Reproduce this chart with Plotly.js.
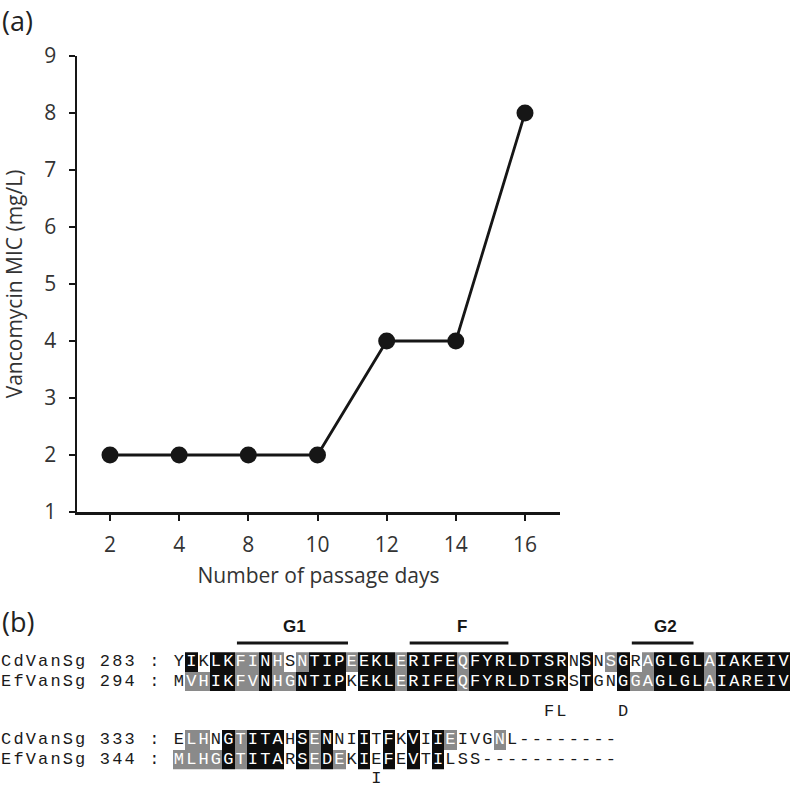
<!DOCTYPE html>
<html>
<head>
<meta charset="utf-8">
<script src="https://cdn.plot.ly/plotly-3.0.1.min.js"></script>
<style>
  html, body { margin: 0; padding: 0; background: #fff; }
  #chart { width: 796px; height: 793px; }
</style>
</head>
<body>
<div id="chart"></div>
<script>
// (a) vancomycin MIC over serial passage
const passageDays = ['2', '4', '8', '10', '12', '14', '16'];
const micValues = [2, 2, 2, 2, 4, 4, 8];

// (b) VanSg alignment
const seqLabels = ['CdVanSg 283 : ', 'EfVanSg 294 : ', 'CdVanSg 333 : ', 'EfVanSg 344 : '];
const seqResidues = [
  'YIKLKFINHSNTIPEEKLERIFEQFYRLDTSRNSNSGRAGLGLAIAKEIV',
  'MVHIKFVNHGNTIPKEKLERIFEQFYRLDTSRSTGNGGAGLGLAIAREIV',
  'ELHNGTITAHSENNIITFKVIIEIVGNL--------',
  'MLHGGTITARSEDEKIEFEVTILSS-----------',
];
// k = identical (black box), g = similar (grey box), . = unshaded
const seqShading = [
  '.k.kkggkg.gkkkgkkkgkkkkgkkkkkkkk.k.gk.gkkkkgkkkkkk',
  '.ggkkggkggkkkk.kkkgkkkkgkkkkkkkk.k..kggkkkkgkkkkkk',
  '.gg.kgkkk.kgk..k.k.k.kg...g.........',
  'ggggkgkkk.kgkg.k.k.k.k..............',
];
// motif bars (residue columns within the block)
const motifNames = ['G1', 'F', 'G2'];
const motifFirst = [5, 19, 37];
const motifLast = [13, 26, 41];
// point changes found in the passaged strain
const mutRow = [1, 1, 1, 3];
const mutCol = [30, 31, 36, 16];
const mutText = ['F', 'L', 'D', 'I'];

const CHAR_W = 12.34;
const ROW_Y = [0, 1, 4, 5];
const MUT_Y = { 1: 2.55, 3: 6.0 };
const INK = '#161616';

const nCols = Math.max(...seqLabels.map((l, i) => l.length + seqResidues[i].length));
const shadeZ = Array.from({ length: 6 }, () => Array(nCols).fill(null));
const chars = { x: [], y: [], text: [], color: [] };
seqLabels.forEach((label, r) => {
  const line = label + seqResidues[r];
  const shade = ' '.repeat(label.length) + seqShading[r];
  [...line].forEach((ch, i) => {
    const s = shade[i];
    if (s === 'k' || s === 'g') shadeZ[ROW_Y[r]][i] = s === 'k' ? 2 : 1;
    if (ch === ' ') return;
    chars.x.push(i);
    chars.y.push(ROW_Y[r]);
    chars.text.push(ch);
    chars.color.push(s === 'k' || s === 'g' ? '#ffffff' : '#1a1a1a');
  });
});
const offset = seqLabels[0].length;
mutText.forEach((t, i) => {
  chars.x.push(offset + mutCol[i]);
  chars.y.push(MUT_Y[mutRow[i]]);
  chars.text.push(t);
  chars.color.push('#1a1a1a');
});

const traces = [
  {
    x: passageDays, y: micValues, type: 'scatter', mode: 'lines+markers',
    line: { color: INK, width: 2.8 },
    marker: { color: INK, size: 17 },
    hoverinfo: 'skip', cliponaxis: false,
  },
  {
    z: shadeZ, x: shadeZ[0].map((_, i) => i), y: shadeZ.map((_, i) => i),
    type: 'heatmap', xaxis: 'x2', yaxis: 'y2', zmin: 1, zmax: 2, showscale: false,
    colorscale: [[0, '#8a8a8a'], [0.5, '#8a8a8a'], [0.5, '#0d0d0d'], [1, '#0d0d0d']],
    hoverinfo: 'skip',
  },
  {
    x: chars.x, y: chars.y, text: chars.text, type: 'scatter', mode: 'text',
    xaxis: 'x2', yaxis: 'y2', textposition: 'middle center',
    textfont: { family: 'Liberation Mono, Courier New, monospace', size: 17, color: chars.color },
    hoverinfo: 'skip', cliponaxis: false,
  },
];

const shapes = motifNames.map((_, i) => ({
  type: 'line', xref: 'x2', yref: 'y2',
  x0: offset + motifFirst[i] - 0.5 + 0.2, x1: offset + motifLast[i] + 0.5 + 0.2,
  y0: -0.97, y1: -0.97, line: { color: INK, width: 3 },
}));
const annotations = motifNames.map((name, i) => ({
  xref: 'x2', yref: 'y2', x: offset + (motifFirst[i] + motifLast[i]) / 2 + 0.4, y: -1.8,
  text: name, showarrow: false,
  font: { family: 'Liberation Sans, Arial, sans-serif', size: 17, weight: 'bold', color: INK },
}));
annotations.push(
  { xref: 'paper', yref: 'paper', x: 0, y: 1, xanchor: 'left', yanchor: 'top', text: '(a)', showarrow: false,
    font: { family: 'Open Sans', size: 27, color: '#222' } },
  { xref: 'paper', yref: 'paper', x: 0, y: 1 - 621 / 793, xanchor: 'left', yanchor: 'middle', text: '(b)', showarrow: false,
    font: { family: 'Open Sans', size: 27, color: '#222' } },
);

const axisStyle = {
  showline: true, linewidth: 2.5, linecolor: INK, ticks: 'outside', ticklen: 6, tickwidth: 2, tickcolor: INK,
  showgrid: false, zeroline: false, fixedrange: true,
  tickfont: { family: 'Open Sans', size: 21, color: '#333' },
};

const layout = {
  width: 796, height: 793,
  margin: { l: 0, r: 0, t: 0, b: 0 },
  paper_bgcolor: 'white', plot_bgcolor: 'rgba(0,0,0,0)',
  showlegend: false,
  font: { family: 'Open Sans', color: '#222' },
  xaxis: {
    ...axisStyle, domain: [77 / 796, 560 / 796], type: 'category', range: [-0.477, 6.506],
    ticklabelstandoff: 6,
    title: { text: 'Number of passage days', font: { family: 'Open Sans', size: 21, color: '#333' }, standoff: 12 },
  },
  yaxis: {
    ...axisStyle, domain: [1 - 512 / 793, 1 - 56 / 793], range: [1, 9], dtick: 1,
    ticklabelstandoff: 8,
    title: { text: 'Vancomycin MIC (mg/L)', font: { family: 'Open Sans', size: 21, color: '#333' }, standoff: 22 },
  },
  xaxis2: { domain: [0, 1], anchor: 'y2', range: [-0.5, 796 / CHAR_W - 0.5], visible: false, fixedrange: true },
  yaxis2: { domain: [0, 198 / 793], anchor: 'x2', range: [6.718, -3.436], visible: false, fixedrange: true },
  shapes, annotations,
};

Plotly.newPlot('chart', traces, layout, { displayModeBar: false, staticPlot: true });
</script>
</body>
</html>
